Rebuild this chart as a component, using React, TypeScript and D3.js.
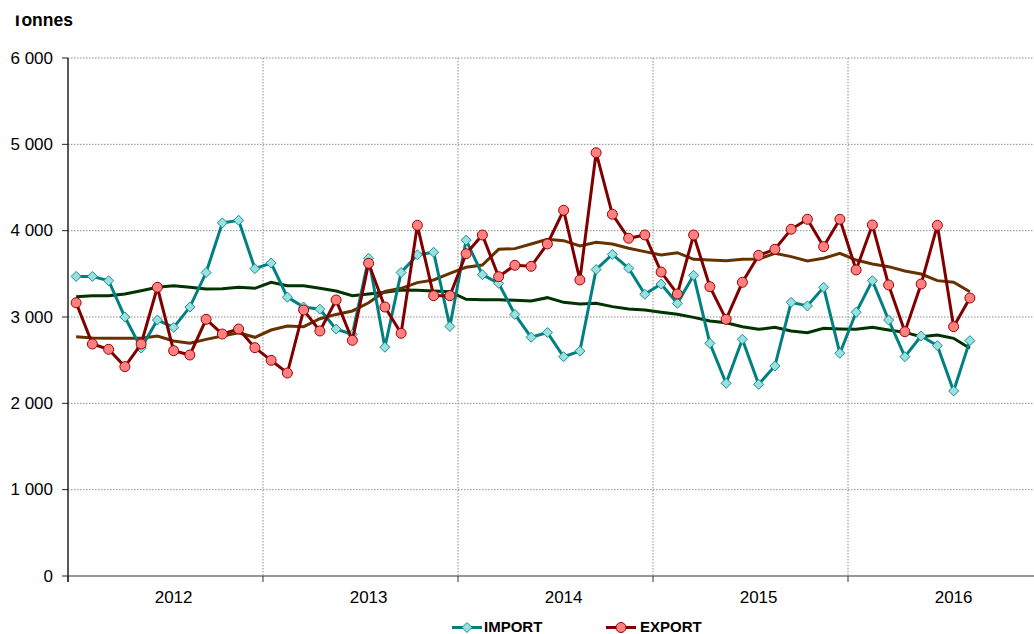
import * as d3 from 'd3';

const years = ['2012', '2013', '2014', '2015', '2016'];
const yTicks = [0, 1000, 2000, 3000, 4000, 5000, 6000];

// monthly values, Jan 2012 .. Aug 2016 (tonnes)
const importValues = [
  3470, 3470, 3420, 3000, 2640, 2965, 2880, 3115, 3515, 4090, 4120, 3560,
  3625, 3230, 3115, 3090, 2860, 2800, 3680, 2650, 3515, 3720, 3750, 2890,
  3890, 3490, 3390, 3030, 2765, 2820, 2540, 2605, 3550, 3725, 3565, 3263,
  3382, 3158, 3483, 2695, 2232, 2742, 2220, 2432, 3170, 3128, 3344, 2580,
  3055, 3421, 2965, 2540, 2780, 2668, 2143, 2726,
];

const exportValues = [
  3165, 2687, 2626, 2425, 2687, 3344, 2610, 2560, 2973, 2803, 2861, 2645,
  2498, 2351, 3081, 2838, 3197, 2730, 3622, 3116, 2811, 4062, 3247, 3247,
  3733, 3950, 3467, 3599, 3587, 3846, 4236, 3429, 4903, 4190, 3912, 3950,
  3521, 3267, 3950, 3351, 2973, 3402, 3714, 3784, 4016, 4132, 3815, 4132,
  3545, 4066, 3371, 2830, 3382, 4062, 2888, 3220,
];

const importTrend = [
  3235, 3247, 3247, 3267, 3305, 3344, 3363, 3344, 3325, 3328, 3344, 3332,
  3402, 3363, 3363, 3332, 3301, 3247, 3267, 3286, 3313, 3309, 3301, 3293,
  3205, 3201, 3201, 3193, 3185, 3224, 3170, 3150, 3158, 3120, 3093, 3081,
  3054, 3031, 2996, 2954, 2934, 2888, 2857, 2880, 2838, 2818, 2869, 2861,
  2857, 2880, 2849, 2822, 2772, 2791, 2753, 2637,
];

const exportTrend = [
  2772, 2757, 2753, 2753, 2753, 2780, 2722, 2695, 2741, 2780, 2818, 2765,
  2849, 2896, 2888, 2980, 3030, 3070, 3165, 3295, 3332, 3398, 3429, 3506,
  3576, 3602, 3784, 3792, 3846, 3900, 3884, 3822, 3865, 3846, 3796, 3757,
  3718, 3745, 3668, 3660, 3652, 3668, 3672, 3738, 3699, 3649, 3680, 3738,
  3660, 3614, 3583, 3533, 3498, 3421, 3402, 3293,
];

const W = 1034;
const H = 634;
const left = 68;
const top = 58;
const bottom = 576;
const monthW = 16.25;

const FONT = '"Liberation Sans", Arial, sans-serif';

export default function App() {
  const x = d3.scaleLinear().domain([0, 60]).range([left, left + 60 * monthW]);
  const y = d3.scaleLinear().domain([0, 6000]).range([bottom, top]);
  const mx = (i: number) => x(i + 0.5);

  const line = d3
    .line<number>()
    .x((_, i) => mx(i))
    .y((d) => y(d));

  const diamond = (cx: number, cy: number, r: number) =>
    `M${cx},${cy - r}L${cx + r},${cy}L${cx},${cy + r}L${cx - r},${cy}Z`;

  const boundaries = d3.range(1, 6).map((k) => x(k * 12));

  return (
    <svg
      width={W}
      height={H}
      style={{ position: 'absolute', left: 0, top: 0, background: '#fff' }}
      fontFamily={FONT}
    >
      <defs>
        <clipPath id="titleClip">
          <rect x={0} y={15.5} width={200} height={30} />
        </clipPath>
      </defs>

      {/* grid */}
      {yTicks.slice(1).map((t) => (
        <line
          key={t}
          x1={left}
          x2={W}
          y1={y(t)}
          y2={y(t)}
          stroke="#8c8c8c"
          strokeWidth={1}
          strokeDasharray="1.5,1.5"
        />
      ))}
      {boundaries.map((bx, i) => (
        <line
          key={i}
          x1={bx}
          x2={bx}
          y1={top}
          y2={bottom}
          stroke="#8c8c8c"
          strokeWidth={1}
          strokeDasharray="1.5,1.5"
        />
      ))}

      {/* axes */}
      <line x1={left} x2={W} y1={bottom} y2={bottom} stroke="#777" strokeWidth={1.5} />
      {[x(0), ...boundaries].map((bx, i) => (
        <line key={i} x1={bx} x2={bx} y1={bottom} y2={bottom + 6} stroke="#333" strokeWidth={1} />
      ))}
      <line x1={left} x2={left} y1={top} y2={bottom + 6} stroke="#222" strokeWidth={1.5} />
      {yTicks.map((t) => (
        <g key={t}>
          <line x1={left - 6} x2={left} y1={y(t)} y2={y(t)} stroke="#222" strokeWidth={1} />
          <text
            x={53}
            y={y(t)}
            textAnchor="end"
            dominantBaseline="central"
            fontSize={17}
            fill="#000"
          >
            {d3.format(',')(t).replace(/,/g, ' ')}
          </text>
        </g>
      ))}
      {years.map((yr, k) => (
        <text key={yr} x={mx(k * 12 + 6)} y={603} textAnchor="middle" fontSize={17} fill="#000">
          {yr}
        </text>
      ))}

      <text x={12} y={26} fontSize={17.5} fontWeight="bold" fill="#000" clipPath="url(#titleClip)">
        Tonnes
      </text>

      {/* trend lines */}
      <path d={line(importTrend) ?? ''} fill="none" stroke="#003300" strokeWidth={3} />
      <path d={line(exportTrend) ?? ''} fill="none" stroke="#663300" strokeWidth={3} />

      {/* import */}
      <path d={line(importValues) ?? ''} fill="none" stroke="#008080" strokeWidth={3} />
      {importValues.map((v, i) => (
        <path
          key={i}
          d={diamond(mx(i), y(v), 5)}
          fill="#99e0e0"
          stroke="#1a8f8f"
          strokeWidth={1}
        />
      ))}

      {/* export */}
      <path d={line(exportValues) ?? ''} fill="none" stroke="#800000" strokeWidth={3} />
      {exportValues.map((v, i) => (
        <circle key={i} cx={mx(i)} cy={y(v)} r={5} fill="#ff8080" stroke="#a00000" strokeWidth={1} />
      ))}

      {/* legend */}
      <line x1={452} x2={482} y1={627.5} y2={627.5} stroke="#008080" strokeWidth={3} />
      <path d={diamond(467, 627.5, 5)} fill="#99e0e0" stroke="#1a8f8f" strokeWidth={1} />
      <text x={484} y={632} fontSize={15} fontWeight="bold" fill="#000">
        IMPORT
      </text>
      <line x1={606} x2={636} y1={627.5} y2={627.5} stroke="#800000" strokeWidth={3} />
      <circle cx={621} cy={627.5} r={5} fill="#ff8080" stroke="#a00000" strokeWidth={1} />
      <text x={640} y={632} fontSize={15} fontWeight="bold" fill="#000">
        EXPORT
      </text>
    </svg>
  );
}
